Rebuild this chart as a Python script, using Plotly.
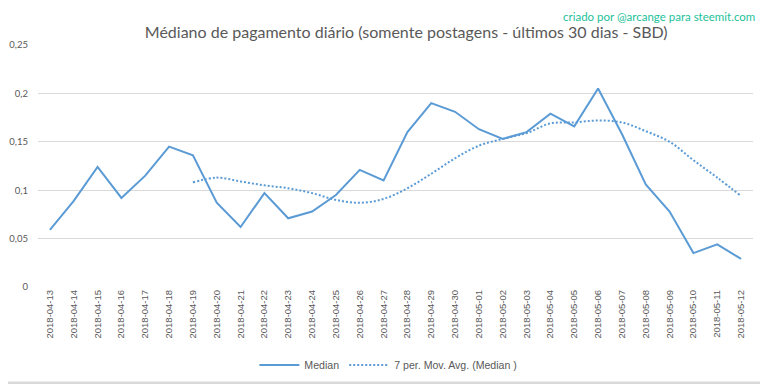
import plotly.graph_objects as go

dates = ["2018-04-13","2018-04-14","2018-04-15","2018-04-16","2018-04-17","2018-04-18",
         "2018-04-19","2018-04-20","2018-04-21","2018-04-22","2018-04-23","2018-04-24",
         "2018-04-25","2018-04-26","2018-04-27","2018-04-28","2018-04-29","2018-04-30",
         "2018-05-01","2018-05-02","2018-05-03","2018-05-04","2018-05-05","2018-05-06",
         "2018-05-07","2018-05-08","2018-05-09","2018-05-10","2018-05-11","2018-05-12"]

median = [0.059, 0.089, 0.124, 0.092, 0.115, 0.145, 0.136, 0.087, 0.062, 0.097,
          0.071, 0.078, 0.095, 0.121, 0.110, 0.160, 0.190, 0.181, 0.163, 0.153,
          0.160, 0.179, 0.166, 0.205, 0.158, 0.106, 0.078, 0.035, 0.044, 0.029]

mov_avg_dates = dates[6:]
mov_avg = [0.108, 0.113, 0.109, 0.105, 0.102, 0.097, 0.090, 0.087, 0.091, 0.102,
           0.117, 0.133, 0.146, 0.153, 0.159, 0.169, 0.170, 0.172, 0.170, 0.161,
           0.150, 0.131, 0.113, 0.094]

ytick_vals = [0, 0.05, 0.1, 0.15, 0.2, 0.25]
ytick_text = ["0", "0,05", "0,1", "0,15", "0,2", "0,25"]

title_text = "Médiano de pagamento diário (somente postagens - últimos 30 dias - SBD)"
credit_text = "criado por @arcange para steemit.com"

blue = "#5B9BD5"
gray_text = "#595959"
border = "#D9D9D9"

fig = go.Figure()
fig.add_trace(go.Scatter(x=dates, y=median, mode="lines", name="Median",
                         line=dict(color=blue, width=2)))
fig.add_trace(go.Scatter(x=mov_avg_dates, y=mov_avg, mode="lines",
                         name="7 per. Mov. Avg. (Median )",
                         line=dict(color=blue, width=2, dash="2px,2px", shape="spline")))

# The page body adds an 8px offset, so the figure is 760x376 with margins shifted.
fig.update_layout(
    width=760, height=376,
    margin=dict(l=30, r=15, t=37, b=97, autoexpand=False),
    paper_bgcolor="white", plot_bgcolor="white",
    font=dict(family="Lato, Open Sans, sans-serif", color=gray_text),
    title=dict(text=title_text, x=0.524, xanchor="center", y=0.936, yanchor="middle",
               font=dict(size=16, color=gray_text, family="Lato, sans-serif"),
               automargin=False),
    showlegend=True,
    legend=dict(orientation="h", x=0.49, xanchor="center", y=-0.322, yanchor="middle",
                font=dict(size=10.6, color=gray_text, family="Liberation Sans, Arial, sans-serif"),
                itemwidth=40, bgcolor="rgba(0,0,0,0)"),
    xaxis=dict(type="category", range=[-0.5, 29.5], tickangle=-90, automargin=False,
               tickfont=dict(size=9.5, color=gray_text, family="Liberation Sans, sans-serif"),
               showgrid=False, showline=False, ticks="", zeroline=False),
    yaxis=dict(range=[0, 0.25], tickvals=ytick_vals, ticktext=ytick_text, automargin=False,
               tickfont=dict(size=9.5, color=gray_text),
               showgrid=True, gridcolor=border, gridwidth=1, zeroline=False,
               showline=False, ticks="", ticklabelstandoff=9),
    annotations=[dict(text=credit_text, xref="paper", yref="paper",
                      x=1.0056, xanchor="right", y=1.151, yanchor="top", showarrow=False,
                      font=dict(size=11.5, color="#1DBF9A", family="Lato, sans-serif"))],
    shapes=[
        dict(type="line", xref="paper", yref="paper",
             x0=1.0175, x1=1.0175, y0=-0.40, y1=1.16,
             line=dict(color=border, width=1.5)),
        dict(type="line", xref="paper", yref="paper",
             x0=-0.05, x1=1.0175, y0=-0.3967, y1=-0.3967,
             line=dict(color=border, width=3)),
    ]
)

fig.write_html("out.html")
